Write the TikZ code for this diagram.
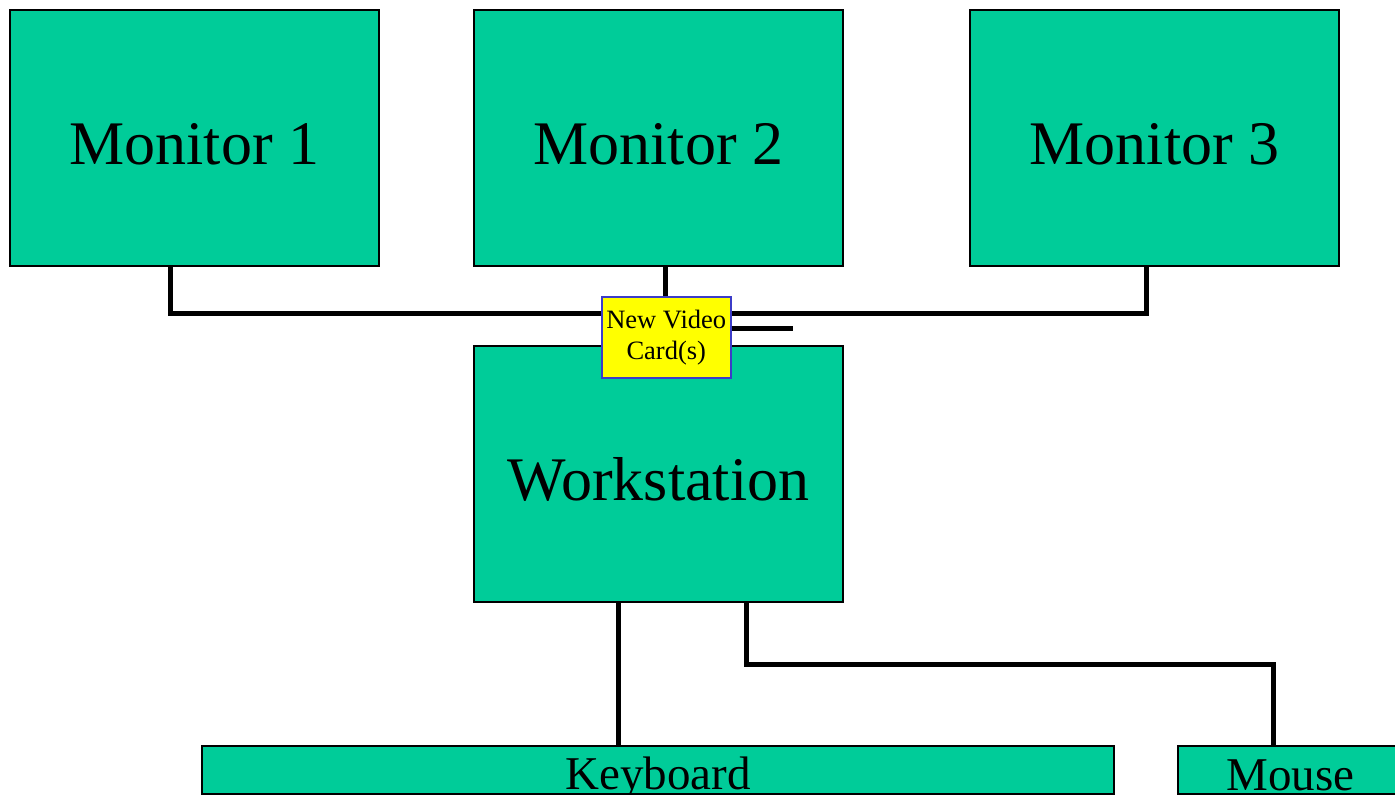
\documentclass[tikz,border=0pt]{standalone}
\usepackage{fontspec}
\setmainfont{Liberation Serif}
\usetikzlibrary{calc}
\definecolor{boxgreen}{RGB}{0,204,153}
\definecolor{cardyellow}{RGB}{255,255,0}
\definecolor{cardblue}{RGB}{60,60,200}
% lower a label without changing the box it occupies
\newcommand{\dropby}[2]{\raisebox{-#1}[\height][\depth]{#2}}
\tikzset{
  unitbox/.style={draw=black, line width=2pt, fill=boxgreen, inner sep=0pt, anchor=north west},
  bigbox/.style={unitbox, minimum width=369pt, minimum height=256pt, font=\fontsize{62}{70}\selectfont},
  barbox/.style={unitbox, minimum height=48pt, font=\fontsize{47}{50}\selectfont},
  cardbox/.style={draw=cardblue, line width=1.5pt, fill=cardyellow, inner sep=0pt, anchor=north west,
    minimum width=129pt, minimum height=81pt, align=center, font=\fontsize{26.5}{31}\selectfont},
  wire/.style={line width=5pt, line cap=rect}
}
\begin{document}
\begin{tikzpicture}[x=1pt, y=-1pt]
  \useasboundingbox (0,0) rectangle (1395,795);

  % monitors, workstation and input devices
  \node[bigbox] (m1) at (9,9) {\dropby{6pt}{Monitor 1}};
  \node[bigbox] (m2) at (473,9) {\dropby{6pt}{Monitor 2}};
  \node[bigbox] (m3) at (969,9) {\dropby{6pt}{Monitor 3}};
  \node[bigbox] (ws) at (473,345) {\dropby{5pt}{Workstation}};
  \node[barbox, minimum width=912pt] (kb) at (201,745) {\dropby{8pt}{Keyboard}};
  \node[barbox, minimum width=225pt] (ms) at (1177,745) {\dropby{5pt}{Mouse}};

  % junction points of the cabling
  \coordinate (j1) at (170,313);
  \coordinate (j3) at (1146,313);
  \coordinate (kx) at (618,0);
  \coordinate (mx) at (746,664);
  \coordinate (mc) at (1273,664);
  \coordinate (stub) at (793,328);

  % monitor cabling
  \draw[wire] (m1.south -| j1) -- (j1) -- (j3) -- (m3.south -| j3);
  \draw[wire, line cap=butt] (m2.south -| 665,0) -- (665,297);

  % the video card sits on top of the workstation
  \node[cardbox] (card) at (601,296) {New Video\\Card(s)};
  \draw[wire, line cap=butt] (card.east |- stub) -- (stub);

  % input devices
  \draw[wire, line cap=butt] (ws.south -| kx) -- (kb.north -| kx);
  \draw[wire, line cap=butt] (ws.south -| mx) -- (mx) -- (mc) -- (ms.north -| mc);
\end{tikzpicture}
\end{document}
